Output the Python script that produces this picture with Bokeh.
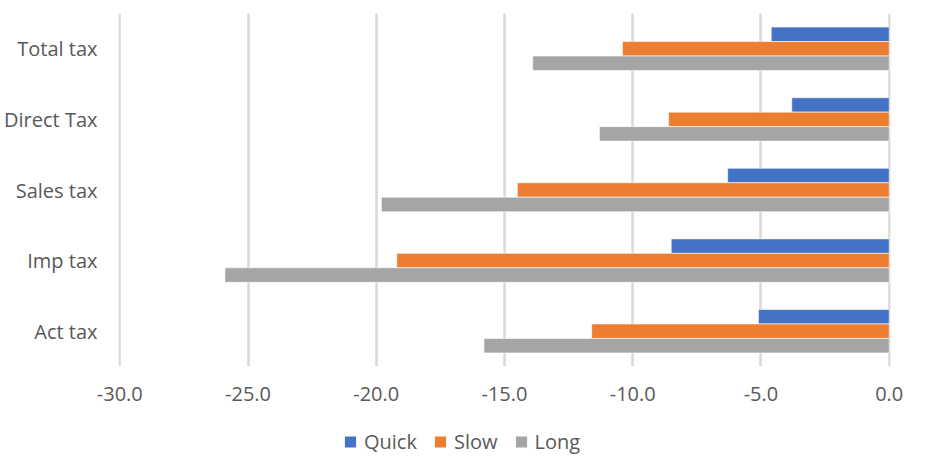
from bokeh.plotting import figure
from bokeh.layouts import column
from bokeh.models import (FactorRange, Range1d, Legend, LegendItem, ColumnDataSource,
                          NumeralTickFormatter, FixedTicker)
from bokeh.transform import dodge
from bokeh.embed import file_html
from bokeh.resources import INLINE

categories = ["Total tax", "Direct Tax", "Sales tax", "Imp tax", "Act tax"]
quick = [-4.6, -3.8, -6.3, -8.5, -5.1]
slow = [-10.4, -8.6, -14.5, -19.2, -11.6]
long_ = [-13.9, -11.3, -19.8, -25.9, -15.8]
x_ticks = [-30, -25, -20, -15, -10, -5, 0]
series = ["Quick", "Slow", "Long"]
colors = ["#4472C4", "#ED7D31", "#A5A5A5"]

FONT = "Open Sans"
TXT = "#595959"
FS = "20px"

src = ColumnDataSource(dict(cat=categories, quick=quick, slow=slow, long=long_))

p = figure(width=926, height=412, output_backend="svg", toolbar_location=None,
           y_range=FactorRange(factors=list(reversed(categories))),
           x_range=Range1d(-30.05, 0.05),
           min_border_left=118, min_border_right=36, min_border_top=13, min_border_bottom=46)
p.outline_line_color = None

bh = 0.205
offsets = [bh, 0, -bh]
cols = ["quick", "slow", "long"]
for col, c, off in zip(cols, colors, offsets):
    p.hbar(y=dodge("cat", off, range=p.y_range), left=0, right=col, height=bh,
           source=src, fill_color=c, line_color="white", line_width=0.6)

p.xaxis.ticker = FixedTicker(ticks=x_ticks)
p.xaxis.formatter = NumeralTickFormatter(format="0.0")
for ax in (p.xaxis[0], p.yaxis[0]):
    ax.axis_line_color = None
    ax.major_tick_line_color = None
    ax.minor_tick_line_color = None
    ax.major_label_text_font = FONT
    ax.major_label_text_font_size = FS
    ax.major_label_text_color = TXT
p.xaxis.major_label_standoff = 14
p.yaxis.major_label_standoff = 15

p.xgrid.ticker = FixedTicker(ticks=x_ticks)
p.xgrid.grid_line_color = "#D9D9D9"
p.xgrid.grid_line_width = 2.5
p.ygrid.grid_line_color = None

# legend strip below the chart (its own bars have zero height and lie outside its x range)
p2 = figure(width=926, height=58, output_backend="svg", toolbar_location=None,
            x_range=Range1d(1, 2), y_range=FactorRange(factors=list(reversed(categories))),
            x_axis_type=None, y_axis_type=None, min_border=0)
p2.outline_line_color = None
p2.grid.visible = False
items = []
for name, col, c in zip(series, cols, colors):
    r = p2.hbar(y="cat", left=0, right=col, height=0, source=src,
                fill_color=c, line_color=None)
    items.append(LegendItem(label=name, renderers=[r]))
legend = Legend(items=items, orientation="horizontal", location="center_left",
                label_text_font=FONT, label_text_font_size=FS, label_text_color=TXT,
                glyph_width=14, glyph_height=14, spacing=16, label_standoff=7,
                border_line_color=None, background_fill_alpha=0, padding=0, margin=225)
p2.add_layout(legend, "center")

open("out.html", "w").write(file_html(column(p, p2), INLINE))
